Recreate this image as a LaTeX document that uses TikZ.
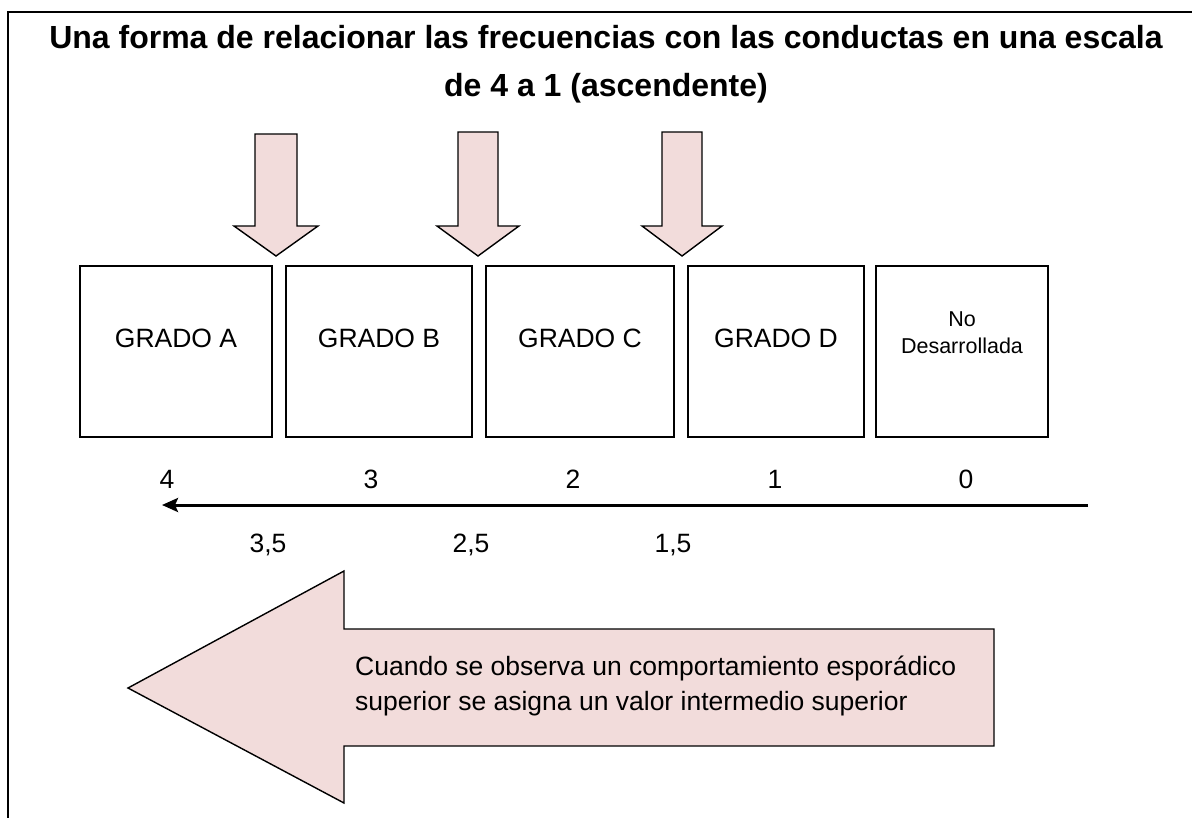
\documentclass[tikz,border=0pt]{standalone}
\usepackage{fontspec}
\setmainfont{Liberation Sans}
\usepackage{xcolor}
\usepackage{tikz}
\usetikzlibrary{arrows.meta}

\definecolor{pinkfill}{RGB}{242,220,219}

\tikzset{
  gradebox/.style={rectangle, draw, line width=1.4pt, minimum height=171pt, inner sep=0pt},
  gradetext/.style={font=\fontsize{26.5}{30}\selectfont, align=center},
  numtext/.style={font=\fontsize{26.5}{30}\selectfont},
  pinkarrow/.style={draw, line width=1.4pt, fill=pinkfill, line join=miter}
}

\begin{document}
\begin{tikzpicture}[x=1pt, y=-1pt]
        \useasboundingbox (0,0) rectangle (1192,817);

        % Frame
        \draw[line width=1.5pt] (8,830) -- (8,12) -- (1200,12);

        % Title
        \node[font=\bfseries\fontsize{32}{48}\selectfont, align=center] (title) at (606,64) {Una forma de relacionar las frecuencias con las conductas en una escala\\de 4 a 1 (ascendente)};

        % Arrows pointing between the grades
        \draw[pinkarrow] (255,134) -- (297,134) -- (297,226) -- (318,226) -- (276,256) -- (234,226) -- (255,226) -- cycle;
        \draw[pinkarrow] (458,132) -- (498,132) -- (498,226) -- (519,226) -- (478,256) -- (437,226) -- (458,226) -- cycle;
        \draw[pinkarrow] (662,132) -- (702,132) -- (702,226) -- (722,226) -- (682,256) -- (642,226) -- (662,226) -- cycle;

        % Grades
        \node[gradebox, minimum width=192pt] (gradeA) at (176,351.5) {};
        \node[gradebox, minimum width=186pt] (gradeB) at (379,351.5) {};
        \node[gradebox, minimum width=188pt] (gradeC) at (580,351.5) {};
        \node[gradebox, minimum width=176pt] (gradeD) at (776,351.5) {};
        \node[gradebox, minimum width=172pt] (gradeN) at (962,351.5) {};
        \node[gradetext] (textA) at (176,338) {GRADO A};
        \node[gradetext] (textB) at (379,338) {GRADO B};
        \node[gradetext] (textC) at (580,338) {GRADO C};
        \node[gradetext] (textD) at (776,338) {GRADO D};
        \node[font=\fontsize{21.5}{27}\selectfont, align=center] (textN) at (962,333) {No\\Desarrollada};

        % Scale
        \node[numtext] (n4) at (167,479) {4};
        \node[numtext] (n3) at (371,479) {3};
        \node[numtext] (n2) at (573,479) {2};
        \node[numtext] (n1) at (775,479) {1};
        \node[numtext] (n0) at (966,479) {0};
        \coordinate (axisright) at (1088,505);
        \coordinate (axisleft) at (162,505);
        \draw[line width=3pt, -{Stealth[length=16pt, width=14pt, inset=3pt]}] (axisright) -- (axisleft);
        \node[numtext] (n35) at (268,545) {3,5};
        \node[numtext] (n25) at (471,545) {2,5};
        \node[numtext] (n15) at (673,545) {1,5};

        % Big arrow with note
        \draw[pinkarrow] (128,688) -- (344,571) -- (344,629) -- (994,629) -- (994,746) -- (344,746) -- (344,803) -- cycle;
        \node[font=\fontsize{26.5}{35}\selectfont, align=left, anchor=west, inner sep=0pt] (note) at (355,686) {Cuando se observa un comportamiento esporádico\\superior se asigna un valor intermedio superior};
    \end{tikzpicture}
\end{document}
